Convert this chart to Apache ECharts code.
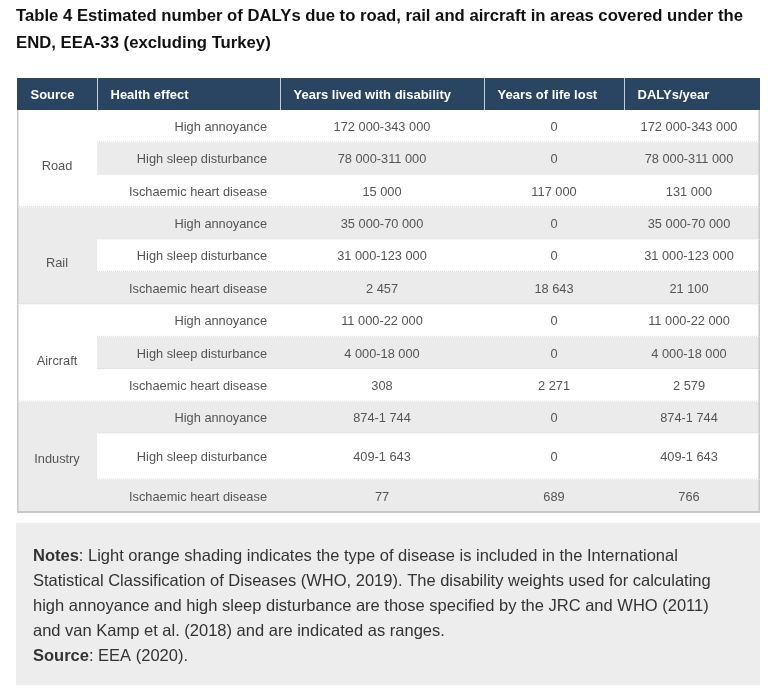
<!DOCTYPE html>
<html><head><meta charset="utf-8">
<script src="https://cdn.jsdelivr.net/npm/echarts@6/dist/echarts.min.js"></script>
<style>html,body{margin:0;padding:0;background:#fff}#c{width:768px;height:693px}</style>
</head><body><div id="c"></div>
<script>
// ---------- content ----------
const titleLines = [
  'Table 4 Estimated number of DALYs due to road, rail and aircraft in areas covered under the',
  'END, EEA-33 (excluding Turkey)'
];
const headers = ['Source', 'Health effect', 'Years lived with disability', 'Years of life lost', 'DALYs/year'];
const sources = ['Road', 'Rail', 'Aircraft', 'Industry'];
const effects = ['High annoyance', 'High sleep disturbance', 'Ischaemic heart disease'];
const yearsLivedWithDisability = ['172 000-343 000', '78 000-311 000', '15 000',
  '35 000-70 000', '31 000-123 000', '2 457',
  '11 000-22 000', '4 000-18 000', '308',
  '874-1 744', '409-1 643', '77'];
const yearsOfLifeLost = ['0', '0', '117 000',
  '0', '0', '18 643',
  '0', '0', '2 271',
  '0', '0', '689'];
const dalysPerYear = ['172 000-343 000', '78 000-311 000', '131 000',
  '35 000-70 000', '31 000-123 000', '21 100',
  '11 000-22 000', '4 000-18 000', '2 579',
  '874-1 744', '409-1 643', '766'];
const notesLines = [
  '{b|Notes}: Light orange shading indicates the type of disease is included in the International',
  'Statistical Classification of Diseases (WHO, 2019). The disability weights used for calculating',
  'high annoyance and high sleep disturbance are those specified by the JRC and WHO (2011)',
  'and van Kamp et al. (2018) and are indicated as ranges.',
  '{b|Source}: EEA (2020).'
];

// ---------- layout (table units) ----------
const colEdges = [0, 80, 263, 467, 607, 743];
const rowHeights = [32, 32.4, 32.4, 32.4, 32.4, 32.4, 32.4, 32.4, 32.4, 32.4, 32, 46, 33.4];
const rowEdges = [0];
rowHeights.forEach(h => rowEdges.push(rowEdges[rowEdges.length - 1] + h));
const sourceLabelShift = [8, 8, 8, 2];

const FONT = '"Liberation Sans", Arial, Helvetica, sans-serif';
const HEAD_BG = '#2a4561';
const SHADE = '#ebebeb';
const BODY_TXT = '#555555';

// ---------- build cells ----------
const cells = [];
headers.forEach((h, i) => cells.push({ c0: i, c1: i + 1, r0: 0, r1: 1, text: h, kind: 'head' }));
sources.forEach((s, g) => {
  const r0 = 1 + g * 3;
  cells.push({ c0: 0, c1: 1, r0: r0, r1: r0 + 3, text: s, kind: 'source', shade: g % 2 === 1, last: g === sources.length - 1, g: g });
  effects.forEach((e, k) => {
    const r = r0 + k, idx = g * 3 + k;
    const shade = (g % 2 === 0) ? k === 1 : k !== 1;
    const last = g === sources.length - 1 && k === 2;
    cells.push({ c0: 1, c1: 2, r0: r, r1: r + 1, text: e, kind: 'effect', shade, last });
    [yearsLivedWithDisability, yearsOfLifeLost, dalysPerYear].forEach((arr, j) =>
      cells.push({ c0: 2 + j, c1: 3 + j, r0: r, r1: r + 1, text: arr[idx], kind: 'value', shade, last }));
  });
});
const data = cells.map(c => [colEdges[c.c0], rowEdges[c.r0], colEdges[c.c1], rowEdges[c.r1]]);

function renderItem(params, api) {
  const c = cells[params.dataIndex];
  const a = api.coord([api.value(0), api.value(1)]);
  const b = api.coord([api.value(2), api.value(3)]);
  const x = a[0], w = b[0] - a[0];
  const y = Math.min(a[1], b[1]), h = Math.abs(b[1] - a[1]);
  const ch = [];
  const fill = c.kind === 'head' ? HEAD_BG : (c.shade ? SHADE : '#ffffff');
  ch.push({ type: 'rect', shape: { x: x, y: y, width: w, height: h }, style: { fill: fill } });
  if (c.kind === 'head') {
    if (c.c0 > 0) ch.push({ type: 'line', shape: { x1: x + 0.5, y1: y, x2: x + 0.5, y2: y + h }, style: { stroke: '#c5ced8', lineWidth: 1 } });
    ch.push({ type: 'text', style: { x: x + 13.5, y: y + h / 2 + 1, text: c.text, align: 'left', verticalAlign: 'middle',
      fill: '#ffffff', font: 'bold 13px ' + FONT } });
  } else {
    if (!c.last) {
      ch.push({ type: 'line', shape: { x1: x, y1: y + h - 0.5, x2: x + w, y2: y + h - 0.5 },
        style: { stroke: '#dadada', lineWidth: 1, lineDash: [1, 1] } });
    } else {
      ch.push({ type: 'line', shape: { x1: x, y1: y + h - 1, x2: x + w, y2: y + h - 1 }, style: { stroke: '#c8c8c8', lineWidth: 2 } });
    }
    if (c.c0 === 0) ch.push({ type: 'line', shape: { x1: x + 0.75, y1: y, x2: x + 0.75, y2: y + h }, style: { stroke: '#c8c8c8', lineWidth: 1.5 } });
    if (c.c1 === colEdges.length - 1) ch.push({ type: 'line', shape: { x1: x + w - 0.75, y1: y, x2: x + w - 0.75, y2: y + h }, style: { stroke: '#c8c8c8', lineWidth: 1.5 } });
    let tx, align, ty = y + h / 2 + 1;
    if (c.kind === 'source') { tx = x + w / 2; align = 'center'; ty += sourceLabelShift[c.g] - 1; }
    else if (c.kind === 'effect') { tx = x + w - 13; align = 'right'; }
    else { tx = x + w / 2 - (c.c0 === 4 ? 3 : 0); align = 'center'; }
    ch.push({ type: 'text', style: { x: tx, y: ty, text: c.text, align: align, verticalAlign: 'middle',
      fill: BODY_TXT, font: '12.8px ' + FONT } });
  }
  return { type: 'group', children: ch };
}

const chart = echarts.init(document.getElementById('c'), null, { renderer: 'canvas' });
chart.setOption({
  backgroundColor: '#ffffff',
  animation: false,
  title: {
    text: titleLines.join('\n'), left: 16, top: 3, padding: 0,
    textStyle: { fontFamily: FONT, fontSize: 16.7, fontWeight: 'bold', color: '#111111', lineHeight: 27 }
  },
  grid: { left: 17, top: 78, width: 743, height: 435 },
  xAxis: { type: 'value', min: 0, max: colEdges[colEdges.length - 1], show: false },
  yAxis: { type: 'value', min: 0, max: rowEdges[rowEdges.length - 1], inverse: true, show: false },
  series: [{
    type: 'custom', renderItem: renderItem, data: data, encode: { x: [0, 2], y: [1, 3] },
    clip: false, silent: true
  }],
  graphic: [
    { type: 'rect', left: 16, top: 523, shape: { width: 744, height: 162 }, style: { fill: '#ededed' }, silent: true },
    { type: 'text', left: 33, top: 544, silent: true,
      style: { text: notesLines.join('\n'), fill: '#333333', font: '16.5px ' + FONT, lineHeight: 25,
        rich: { b: { fontWeight: 'bold', fontSize: 16.5, fontFamily: FONT, fill: '#333333', lineHeight: 25 } } } }
  ]
});
</script>
</body></html>
